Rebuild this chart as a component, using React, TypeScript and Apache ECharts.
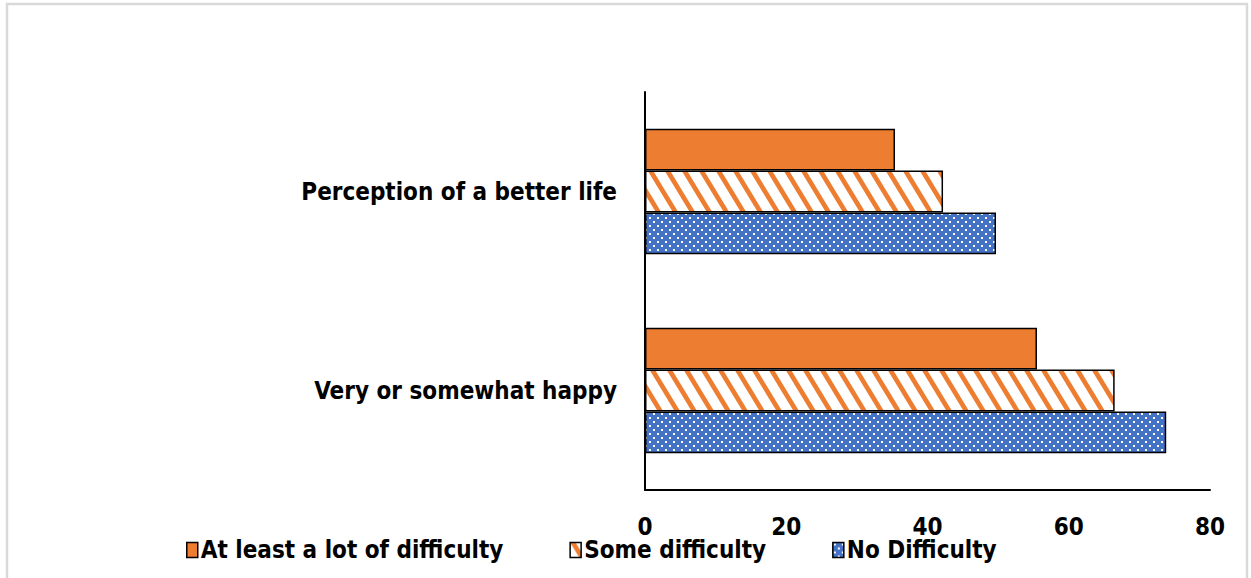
import React, { useEffect, useRef } from "react";
import * as echarts from "echarts";

const categories = ["Very or somewhat happy", "Perception of a better life"];
const seriesNames = ["At least a lot of difficulty", "Some difficulty", "No Difficulty"];
const atLeastALot = [55.5, 35.4];
const someDifficulty = [66.5, 42.2];
const noDifficulty = [73.8, 49.7];
const xTicks = [0, 20, 40, 60, 80];

const ORANGE = "#ED7D31";
const BLUE = "#4472C4";
const FONT = "'Liberation Sans Narrow', 'DejaVu Sans Condensed', 'Noto Sans', sans-serif";

function hatchPattern(): HTMLCanvasElement {
  const P = 17;
  const H = 28;
  const c = document.createElement("canvas");
  c.width = P;
  c.height = H;
  const ctx = c.getContext("2d")!;
  ctx.fillStyle = "#ffffff";
  ctx.fillRect(0, 0, P, H);
  ctx.fillStyle = ORANGE;
  const w = 5.5;
  for (let k = -1; k <= 1; k++) {
    const x0 = k * P;
    ctx.beginPath();
    ctx.moveTo(x0, 0);
    ctx.lineTo(x0 + w, 0);
    ctx.lineTo(x0 + w + P, H);
    ctx.lineTo(x0 + P, H);
    ctx.closePath();
    ctx.fill();
  }
  return c;
}

function dotPattern(): HTMLCanvasElement {
  const c = document.createElement("canvas");
  c.width = 8;
  c.height = 8;
  const ctx = c.getContext("2d")!;
  ctx.fillStyle = BLUE;
  ctx.fillRect(0, 0, 8, 8);
  ctx.fillStyle = "#ffffff";
  ctx.fillRect(1, 1, 2, 2);
  ctx.fillRect(5, 5, 2, 2);
  return c;
}

export default function App() {
  const ref = useRef<HTMLDivElement>(null);
  useEffect(() => {
    if (!ref.current) return;
    const chart = echarts.init(ref.current, undefined, { renderer: "svg" });
    const border = { borderColor: "#000000", borderWidth: 1.5 };
    chart.setOption({
      animation: false,
      backgroundColor: "#ffffff",
      graphic: [
        {
          type: "rect",
          shape: { x: 7, y: 4, width: 1240, height: 590 },
          style: { fill: "none", stroke: "#d9d9d9", lineWidth: 2.5 },
          silent: true,
        },
      ],
      grid: { left: 645, right: 41, top: 92, bottom: 88 },
      legend: {
        left: 181,
        top: 533,
        icon: "rect",
        itemWidth: 11,
        itemHeight: 15,
        itemGap: 66,
        data: seriesNames,
        itemStyle: { borderColor: "#000", borderWidth: 1.5 },
        textStyle: { fontFamily: FONT, fontWeight: "bold", fontSize: 24, color: "#000", padding: [0, 0, 0, -2] },
      },
      xAxis: {
        type: "value",
        min: 0,
        max: 80,
        interval: 20,
        splitLine: { show: false },
        axisTick: { show: false },
        axisLine: { show: true, lineStyle: { color: "#000", width: 2 } },
        axisLabel: {
          margin: 25,
          fontFamily: FONT,
          fontWeight: "bold",
          fontSize: 24,
          color: "#000",
          formatter: (v: number) => (xTicks.includes(v) ? String(v) : ""),
        },
      },
      yAxis: {
        type: "category",
        data: categories,
        axisTick: { show: false },
        axisLine: { show: true, lineStyle: { color: "#000", width: 2 } },
        axisLabel: { margin: 28, fontFamily: FONT, fontWeight: "bold", fontSize: 24, color: "#000" },
      },
      series: [
        {
          name: seriesNames[0],
          type: "bar",
          data: atLeastALot,
          barGap: "0%",
          barCategoryGap: "37%",
          itemStyle: { color: ORANGE, ...border },
        },
        {
          name: seriesNames[1],
          type: "bar",
          data: someDifficulty,
          itemStyle: { color: { image: hatchPattern(), repeat: "repeat" }, ...border },
        },
        {
          name: seriesNames[2],
          type: "bar",
          data: noDifficulty,
          itemStyle: { color: { image: dotPattern(), repeat: "repeat" }, ...border },
        },
      ],
    });
    return () => chart.dispose();
  }, []);
  return <div ref={ref} style={{ position: "fixed", left: 0, top: 0, width: 1251, height: 578 }} />;
}
